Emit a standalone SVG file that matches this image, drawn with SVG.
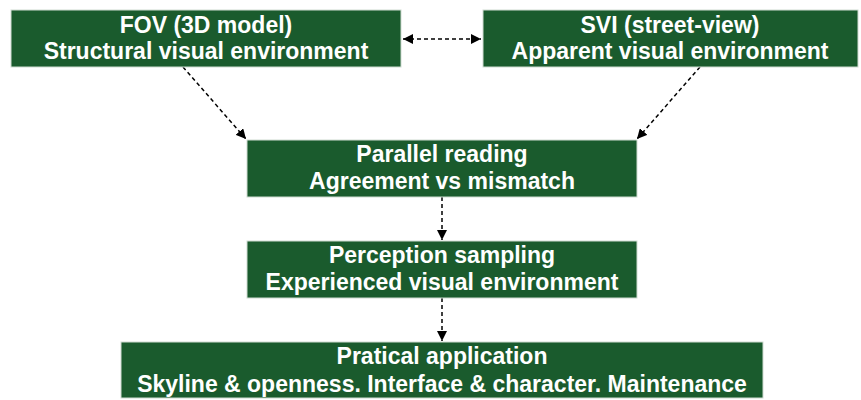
<svg xmlns="http://www.w3.org/2000/svg" width="861" height="400" viewBox="0 0 861 400">
<defs>
<style>
.box{fill:#1a5b2d;stroke:#cfdcd2;stroke-width:1}
.t{font-family:"Liberation Sans",Arial,sans-serif;font-weight:bold;font-size:23px;fill:#ffffff;text-anchor:middle}
.c{fill:none;stroke:#000;stroke-width:1.5;stroke-dasharray:4 3}
</style>
<marker id="ah" viewBox="0 0 10 10" refX="10" refY="5" markerWidth="10" markerHeight="10" markerUnits="userSpaceOnUse" orient="auto-start-reverse">
<path d="M0,0 L10,5 L0,10 Z" fill="#000"/>
</marker>
</defs>
<rect width="861" height="400" fill="#fff"/>
<g id="connectors">
<line class="c" x1="403" y1="39" x2="481" y2="39" marker-start="url(#ah)" marker-end="url(#ah)"/>
<line class="c" x1="183" y1="67" x2="246" y2="139" marker-end="url(#ah)"/>
<line class="c" x1="700" y1="67" x2="637" y2="139" marker-end="url(#ah)"/>
<line class="c" x1="442" y1="197" x2="442" y2="240" marker-end="url(#ah)"/>
<line class="c" x1="442" y1="298" x2="442" y2="341" marker-end="url(#ah)"/>
</g>
<g id="fov">
<rect class="box" x="11" y="10" width="390" height="57"/>
<text class="t" x="206" y="33">FOV (3D model)</text>
<text class="t" x="206" y="59">Structural visual environment</text>
</g>
<g id="svi">
<rect class="box" x="483" y="10" width="375" height="57"/>
<text class="t" x="670" y="33">SVI (street-view)</text>
<text class="t" x="670" y="59">Apparent visual environment</text>
</g>
<g id="parallel">
<rect class="box" x="247" y="140" width="390" height="57"/>
<text class="t" x="442" y="162">Parallel reading</text>
<text class="t" x="442" y="189">Agreement vs mismatch</text>
</g>
<g id="perception">
<rect class="box" x="247" y="241" width="390" height="57"/>
<text class="t" x="442" y="263">Perception sampling</text>
<text class="t" x="442" y="290">Experienced visual environment</text>
</g>
<g id="practical">
<rect class="box" x="121" y="342" width="642" height="56"/>
<text class="t" x="442" y="364">Pratical application</text>
<text class="t" x="442" y="392">Skyline &amp; openness. Interface &amp; character. Maintenance</text>
</g>
</svg>
